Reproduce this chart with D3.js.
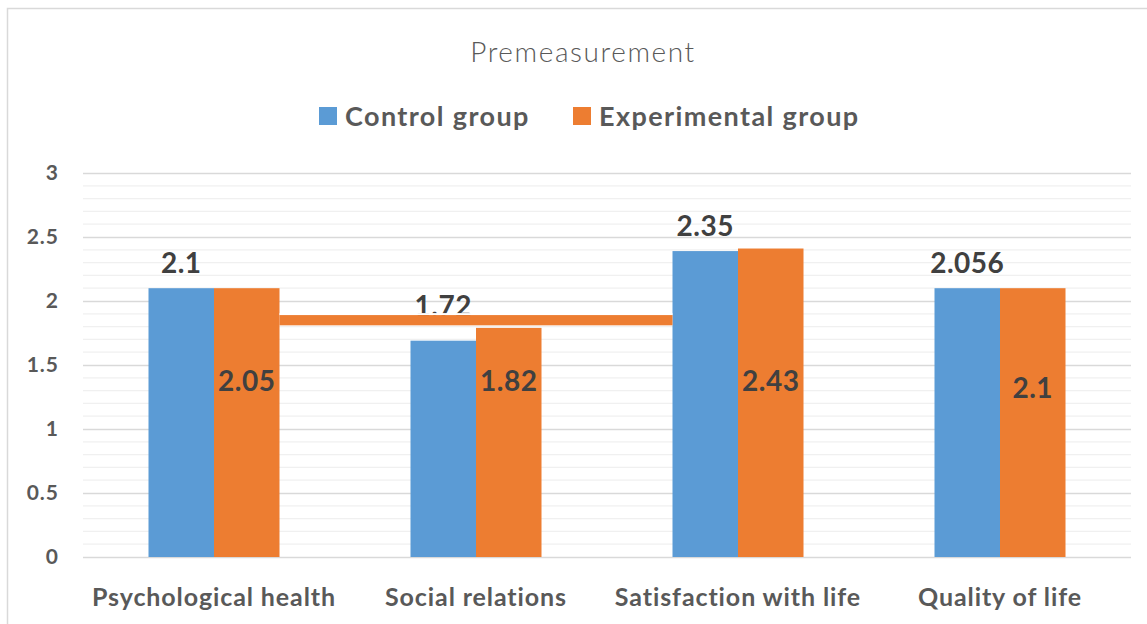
<!DOCTYPE html>
<html>
<head>
<meta charset="utf-8">
<script src="https://cdn.jsdelivr.net/npm/d3@7"></script>
<style>
  body { margin: 0; background: #fff; }
  text { font-family: Lato, "Open Sans", sans-serif; }
</style>
</head>
<body>
<div class="chart"></div>
<script>
const categories = ["Psychological health", "Social relations", "Satisfaction with life", "Quality of life"];
const seriesNames = ["Control group", "Experimental group"];
const controlValues = [2.1, 1.69, 2.39, 2.1];
const experimentalValues = [2.1, 1.79, 2.41, 2.1];
const controlLabels = ["2.1", "1.72", "2.35", "2.056"];
const experimentalLabels = ["2.05", "1.82", "2.43", "2.1"];
const yTicks = [0, 0.5, 1, 1.5, 2, 2.5, 3];
// stray orange bar that sits across the middle of the original picture
const strayBar = { from: "Psychological health", to: "Satisfaction with life", low: 1.81, high: 1.89 };

const colors = ["#5B9BD5", "#ED7D31"];
const width = 1147, height = 624;

const svg = d3.select(".chart")
    .append("svg")
    .attr("width", width)
    .attr("height", height);

// chart frame
svg.append("rect")
    .attr("x", 7.5).attr("y", 8.5)
    .attr("width", width).attr("height", height)
    .attr("fill", "none")
    .attr("stroke", "#d9d9d9")
    .attr("stroke-width", 1.5);

const x = d3.scaleBand()
    .domain(categories)
    .range([83, 1131])
    .paddingInner(0.5)
    .paddingOuter(0.25);

const xSub = d3.scaleBand()
    .domain(seriesNames)
    .range([0, x.bandwidth()]);

const y = d3.scaleLinear()
    .domain([0, 3])
    .range([557, 173]);

// minor gridlines every 0.1, major every 0.5
const minor = d3.range(1, 30).map(d => d / 10).filter(d => Math.abs(d * 2 - Math.round(d * 2)) > 1e-6);
svg.append("g")
    .selectAll("line")
    .data(minor)
    .enter().append("line")
    .attr("x1", 83).attr("x2", 1131)
    .attr("y1", d => y(d)).attr("y2", d => y(d))
    .attr("stroke", "#f0f0f0")
    .attr("stroke-width", 1.3);

const yAxis = svg.append("g")
    .attr("class", "y axis")
    .attr("transform", "translate(83,0)")
    .call(d3.axisLeft(y).tickValues(yTicks).tickSize(-1048).tickPadding(24).tickFormat(d3.format("")));
yAxis.select(".domain").remove();
yAxis.selectAll(".tick line").attr("stroke", "#d9d9d9").attr("stroke-width", 1.5);
yAxis.selectAll(".tick text")
    .attr("fill", "#595959")
    .style("font-size", "21px")
    .style("font-weight", "bold")
    .style("letter-spacing", "1px")
    .style("font-family", "Lato, sans-serif");

// category labels
svg.append("g")
    .selectAll("text")
    .data(categories)
    .enter().append("text")
    .attr("x", d => x(d) + x.bandwidth() / 2)
    .attr("y", 606)
    .attr("text-anchor", "middle")
    .attr("fill", "#595959")
    .style("font-size", "25px")
    .style("font-weight", "bold")
    .style("letter-spacing", "0.9px")
    .text(d => d);

// bars
const rows = categories.map((c, i) => ({
    category: c,
    values: [controlValues[i], experimentalValues[i]]
}));

const groups = svg.append("g")
    .selectAll("g")
    .data(rows)
    .enter().append("g")
    .attr("transform", d => `translate(${x(d.category)},0)`);

groups.selectAll("rect")
    .data(d => d.values.map((v, j) => ({ series: seriesNames[j], value: v, j: j })))
    .enter().append("rect")
    .attr("x", d => xSub(d.series))
    .attr("width", xSub.bandwidth())
    .attr("y", d => y(d.value))
    .attr("height", d => y(0) - y(d.value))
    .attr("fill", d => colors[d.j]);

// control labels above the blue bars (the 1.72 one sits higher, as in the source)
svg.append("g")
    .selectAll("text")
    .data(categories)
    .enter().append("text")
    .attr("x", d => x(d) + xSub(seriesNames[0]) + xSub.bandwidth() / 2)
    .attr("y", (d, i) => y(controlValues[i]) - (i === 1 ? 25 : 15))
    .attr("text-anchor", "middle")
    .attr("fill", "#404040")
    .style("font-size", "28px")
    .style("font-weight", "bold")
    .style("letter-spacing", "0.5px")
    .text((d, i) => controlLabels[i]);

// stray bar plus the white strip that cuts the label above it
const strayX1 = x(strayBar.from) + x.bandwidth();
const strayX2 = x(strayBar.to);
svg.append("rect")
    .attr("x", strayX1)
    .attr("width", strayX2 - strayX1)
    .attr("y", y(strayBar.high) - 2)
    .attr("height", 2)
    .attr("fill", "#fff");
svg.append("rect")
    .attr("x", strayX1)
    .attr("width", strayX2 - strayX1)
    .attr("y", y(strayBar.high))
    .attr("height", y(strayBar.low) - y(strayBar.high))
    .attr("fill", colors[1]);

// experimental labels inside the orange bars
svg.append("g")
    .selectAll("text")
    .data(categories)
    .enter().append("text")
    .attr("x", d => x(d) + xSub(seriesNames[1]) + xSub.bandwidth() / 2)
    .attr("y", (d, i) => y(1.3) + (i === 3 ? 7 : 0))
    .attr("text-anchor", "middle")
    .attr("fill", "#404040")
    .style("font-size", "28px")
    .style("font-weight", "bold")
    .style("letter-spacing", "0.5px")
    .text((d, i) => experimentalLabels[i]);

// title
svg.append("text")
    .attr("x", 583)
    .attr("y", 62)
    .attr("text-anchor", "middle")
    .attr("fill", "#595959")
    .style("font-size", "28px")
    .style("font-weight", 300)
    .style("letter-spacing", "1.6px")
    .text("Premeasurement");

// legend
const legend = svg.append("g");
const legendX = [319, 573];
seriesNames.forEach((name, i) => {
    legend.append("rect")
        .attr("x", legendX[i]).attr("y", 107)
        .attr("width", 18).attr("height", 18)
        .attr("fill", colors[i]);
    legend.append("text")
        .attr("x", legendX[i] + 26)
        .attr("y", 126)
        .attr("fill", "#595959")
        .style("font-size", "27px")
        .style("font-weight", "bold")
        .style("letter-spacing", "1.4px")
        .text(name);
});
</script>
</body>
</html>
